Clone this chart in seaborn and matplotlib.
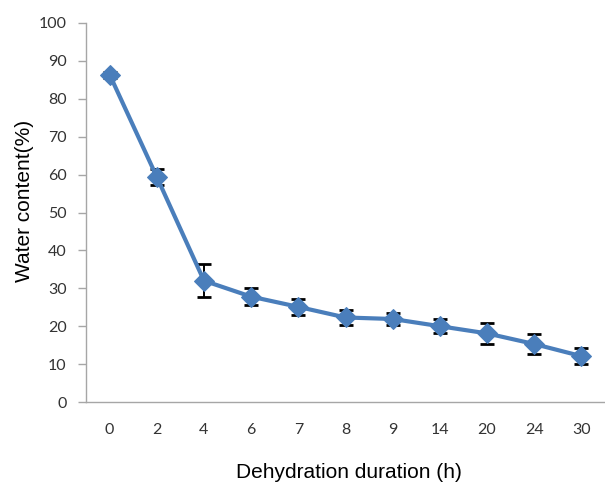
import matplotlib
matplotlib.use("Agg")
import matplotlib.pyplot as plt
import seaborn as sns
import pandas as pd
import numpy as np

# Data
durations = ["0", "2", "4", "6", "7", "8", "9", "14", "20", "24", "30"]
water_content = [86.4, 59.4, 32.0, 27.8, 25.1, 22.3, 21.9, 20.0, 18.1, 15.3, 12.1]
errors = [0.8, 2.2, 4.4, 2.2, 2.2, 2.1, 1.5, 1.8, 2.8, 2.6, 2.2]
y_ticks = [0, 10, 20, 30, 40, 50, 60, 70, 80, 90, 100]

sns.set_style("white")
plt.rcParams['font.family'] = ['Liberation Sans', 'DejaVu Sans']

W, H = 605, 482
fig = plt.figure(figsize=(W / 100, H / 100), dpi=100)
ax = fig.add_axes([86 / W, 1 - 402 / H, 1 - 86 / W, (402 - 23) / H])

pos = np.arange(len(durations))
df = pd.DataFrame({"pos": pos, "wc": water_content, "err": errors})

line_color = "#4A7EBB"
ax.errorbar(df["pos"], df["wc"], yerr=df["err"], fmt="none", ecolor="black",
            elinewidth=1.4, capsize=5, capthick=2.0, zorder=2)
sns.lineplot(data=df, x="pos", y="wc", ax=ax, color=line_color, linewidth=3,
             marker="D", markersize=10, markeredgecolor=line_color, zorder=3)

ax.set_ylim(0, 100)
ax.set_xlim(-0.5, 10.5 - 9 / 48)
ax.set_yticks(y_ticks)

tick_font = ['Lato', 'DejaVu Sans']
ax.set_yticklabels([str(v) for v in y_ticks], family=tick_font, fontsize=11.5, color="#333333")
ax.set_xticks(pos)
ax.set_xticklabels(durations, family=tick_font, fontsize=11.5, color="#333333")
ax.set_xticks(np.arange(-0.5, len(durations), 1.0), minor=True)

axis_color = "#A6A6A6"
ax.tick_params(axis="x", which="major", length=0, pad=15)
ax.tick_params(axis="x", which="minor", length=5, width=1, color=axis_color, direction="out")
ax.tick_params(axis="y", which="major", length=6, width=1, color=axis_color, direction="out", pad=8, left=True)

for s in ["top", "right"]:
    ax.spines[s].set_visible(False)
for s in ["left", "bottom"]:
    ax.spines[s].set_color(axis_color)
    ax.spines[s].set_linewidth(1)

ax.set_xlabel("")
ax.set_ylabel("")
fig.text(349 / W, 1 - 478 / H, "Dehydration duration (h)", ha="center", va="baseline",
         fontsize=15, color="black")
fig.text(25 / W, 1 - 201 / H, "Water content(%)", ha="center", va="center",
         rotation=90, fontsize=15, color="black")

fig.savefig("out.png", dpi=100)
